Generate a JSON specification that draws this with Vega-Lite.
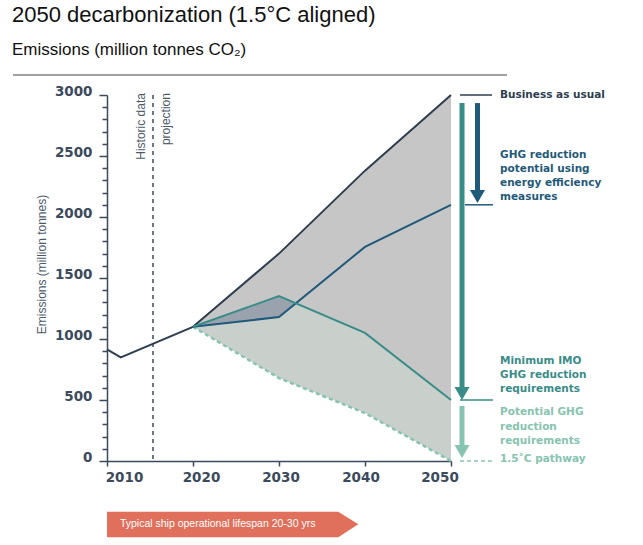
{
  "$schema": "https://vega.github.io/schema/vega-lite/v6.json",
  "autosize": "none",
  "width": 344,
  "height": 366,
  "padding": {"left": 107, "top": 95, "right": 192, "bottom": 84},
  "background": "white",
  "title": {
    "text": "2050 decarbonization (1.5°C aligned)",
    "subtitle": "Emissions (million tonnes CO₂)",
    "anchor": "start",
    "frame": "bounds",
    "font": "Liberation Sans",
    "fontSize": 22,
    "fontWeight": "normal",
    "color": "#111111",
    "subtitleFont": "Liberation Sans",
    "subtitleFontSize": 17,
    "subtitleColor": "#111111",
    "subtitlePadding": 15,
    "offset": 15
  },
  "config": {"view": {"stroke": null}},
  "datasets": {
    "lines": [
      {"series": "historic", "year": 2010, "value": 915},
      {"series": "historic", "year": 2011.6, "value": 850},
      {"series": "historic", "year": 2020, "value": 1100},
      {"series": "bau", "year": 2020, "value": 1100},
      {"series": "bau", "year": 2030, "value": 1700},
      {"series": "bau", "year": 2040, "value": 2380},
      {"series": "bau", "year": 2050, "value": 3000},
      {"series": "ee", "year": 2020, "value": 1100},
      {"series": "ee", "year": 2030, "value": 1180},
      {"series": "ee", "year": 2040, "value": 1755},
      {"series": "ee", "year": 2050, "value": 2100},
      {"series": "imo", "year": 2020, "value": 1100},
      {"series": "imo", "year": 2030, "value": 1352},
      {"series": "imo", "year": 2040, "value": 1050},
      {"series": "imo", "year": 2050, "value": 500},
      {"series": "path", "year": 2020, "value": 1100},
      {"series": "path", "year": 2030, "value": 680},
      {"series": "path", "year": 2040, "value": 393},
      {"series": "path", "year": 2050, "value": 0}
    ],
    "upper": [
      {"year": 2020, "value": 1100, "value2": 1100},
      {"year": 2030, "value": 1700, "value2": 1352},
      {"year": 2040, "value": 2380, "value2": 1050},
      {"year": 2050, "value": 3000, "value2": 500}
    ],
    "lower": [
      {"year": 2020, "value": 1100, "value2": 1100},
      {"year": 2030, "value": 1352, "value2": 680},
      {"year": 2040, "value": 1050, "value2": 393},
      {"year": 2050, "value": 500, "value2": 0}
    ],
    "overlap": [
      {"year": 2020, "value": 1100, "value2": 1100},
      {"year": 2030, "value": 1352, "value2": 1180},
      {"year": 2032.02, "value": 1291, "value2": 1291}
    ],
    "divider": [{"year": 2015.35, "value": 3000, "value2": 0}],
    "divlabels": [
      {"label": "Historic data", "year": 2014.42, "value": 3016},
      {"label": "projection", "year": 2017.27, "value": 3016}
    ],
    "levels": [
      {"series": "bau", "year": 2051.05, "year2": 2054.77, "value": 3000},
      {"series": "ee", "year": 2051.63, "year2": 2054.88, "value": 2100},
      {"series": "imo", "year": 2051.05, "year2": 2054.88, "value": 500},
      {"series": "path", "year": 2051.05, "year2": 2054.88, "value": 0}
    ],
    "shafts": [
      {"series": "imo", "year": 2051.28, "value": 2934, "value2": 600},
      {"series": "ee", "year": 2053.08, "value": 2934, "value2": 2205},
      {"series": "path", "year": 2051.28, "value": 451, "value2": 115}
    ],
    "heads": [
      {"series": "imo", "year": 2051.28, "value": 553},
      {"series": "ee", "year": 2053.08, "value": 2168},
      {"series": "path", "year": 2051.28, "value": 78}
    ],
    "notes": [
      {"label": "Business as usual", "year": 2055.7, "value": 3000, "series": "bau"},
      {"label": "GHG reduction", "year": 2055.7, "value": 2508, "series": "ee"},
      {"label": "potential using", "year": 2055.7, "value": 2393, "series": "ee"},
      {"label": "energy efficiency", "year": 2055.7, "value": 2279, "series": "ee"},
      {"label": "measures", "year": 2055.7, "value": 2164, "series": "ee"},
      {"label": "Minimum IMO", "year": 2055.7, "value": 820, "series": "imo"},
      {"label": "GHG reduction", "year": 2055.7, "value": 705, "series": "imo"},
      {"label": "requirements", "year": 2055.7, "value": 590, "series": "imo"},
      {"label": "Potential GHG", "year": 2055.7, "value": 402, "series": "path"},
      {"label": "reduction", "year": 2055.7, "value": 279, "series": "path"},
      {"label": "requirements", "year": 2055.7, "value": 164, "series": "path"},
      {"label": "1.5˚C pathway", "year": 2055.7, "value": 20, "series": "path"}
    ],
    "banner": [
      {"year": 2010, "value": -415.6, "value2": -625.4},
      {"year": 2036.89, "value": -415.6, "value2": -625.4},
      {"year": 2039.22, "value": -518.9, "value2": -518.9}
    ],
    "bannerText": [
      {"label": "Typical ship operational lifespan 20-30 yrs", "year": 2011.5, "value": -520}
    ],
    "headerRule": [{"year": 1999.07, "year2": 2056.51, "value": 3164}]
  },
  "encoding": {
    "x": {
      "field": "year", "type": "quantitative",
      "scale": {"domain": [2010, 2050], "nice": false, "zero": false},
      "axis": {
        "title": null,
        "values": [2010, 2020, 2030, 2040, 2050],
        "format": "d",
        "labelFlush": false,
        "labelFont": "DejaVu Sans",
        "labelFontWeight": "bold",
        "labelFontSize": 13.5,
        "labelColor": "#3b4a5c",
        "labelPadding": 4,
        "labelAlign": "center",
        "labelOffset": {
          "condition": [
            {"test": "datum.value === 2010", "value": 17},
            {"test": "datum.value === 2020", "value": 8},
            {"test": "datum.value === 2030", "value": 1.5},
            {"test": "datum.value === 2040", "value": -4.5}
          ],
          "value": -11.5
        },
        "tickColor": "#3b4a5c",
        "tickWidth": 1.5,
        "tickSize": 5,
        "domainColor": "#3b4a5c",
        "domainWidth": 1.5,
        "grid": false
      }
    },
    "y": {
      "field": "value", "type": "quantitative",
      "scale": {"domain": [0, 3000], "nice": false, "zero": false},
      "axis": {
        "title": "Emissions (million tonnes)",
        "values": [0, 100, 200, 300, 400, 500, 600, 700, 800, 900, 1000, 1100, 1200, 1300, 1400, 1500, 1600, 1700, 1800, 1900, 2000, 2100, 2200, 2300, 2400, 2500, 2600, 2700, 2800, 2900, 3000],
        "format": "d",
        "labelExpr": "datum.value % 500 === 0 ? datum.label : ''",
        "labelOverlap": false,
        "labelFont": "DejaVu Sans",
        "labelFontWeight": "bold",
        "labelFontSize": 13.5,
        "labelColor": "#3b4a5c",
        "labelPadding": 7,
        "labelOffset": -4,
        "tickColor": "#3b4a5c",
        "tickWidth": 1.5,
        "tickSize": {"condition": {"test": "datum.value % 500 === 0", "value": 8}, "value": 5},
        "domainColor": "#3b4a5c",
        "domainWidth": 1.5,
        "grid": false,
        "titleFont": "Liberation Sans",
        "titleFontSize": 12,
        "titleFontWeight": "normal",
        "titleColor": "#4c5a6a",
        "titleAngle": 270,
        "titleX": -59,
        "titleY": 169,
        "titleAlign": "center",
        "titleBaseline": "bottom"
      }
    }
  },
  "layer": [
    {
      "data": {"name": "upper"},
      "mark": {"type": "area", "color": "#c6c6c6", "opacity": 1},
      "encoding": {"y2": {"field": "value2"}}
    },
    {
      "data": {"name": "lower"},
      "mark": {"type": "area", "color": "#c9d0cc", "opacity": 1},
      "encoding": {"y2": {"field": "value2"}}
    },
    {
      "data": {"name": "overlap"},
      "mark": {"type": "area", "color": "#9aa3ad", "opacity": 1},
      "encoding": {"y2": {"field": "value2"}}
    },
    {
      "data": {"name": "divider"},
      "mark": {"type": "rule", "color": "#3b4a5c", "strokeWidth": 1.5, "strokeDash": [4, 4]},
      "encoding": {"y2": {"field": "value2"}}
    },
    {
      "data": {"name": "divlabels"},
      "mark": {"type": "text", "angle": 270, "align": "right", "baseline": "alphabetic", "font": "Liberation Sans", "fontSize": 12, "color": "#4c5a6a"},
      "encoding": {"text": {"field": "label"}}
    },
    {
      "data": {"name": "lines"},
      "transform": [{"filter": "datum.series === 'path'"}],
      "mark": {"type": "line", "strokeWidth": 2.5, "strokeDash": [4, 3], "color": "#86c3b0"},
      "encoding": {}
    },
    {
      "data": {"name": "lines"},
      "transform": [{"filter": "datum.series !== 'path'"}],
      "mark": {"type": "line", "strokeWidth": 2},
      "encoding": {
        "color": {
          "field": "series", "type": "nominal", "legend": null,
          "scale": {"domain": ["historic", "bau", "ee", "imo", "path"], "range": ["#2c3e50", "#2c3e50", "#1f5a7a", "#3a8c89", "#86c3b0"]}
        }
      }
    },
    {
      "data": {"name": "levels"},
      "transform": [{"filter": "datum.series !== 'path'"}],
      "mark": {"type": "rule", "strokeWidth": 1.5},
      "encoding": {
        "x2": {"field": "year2"},
        "color": {"field": "series", "type": "nominal", "legend": null}
      }
    },
    {
      "data": {"name": "levels"},
      "transform": [{"filter": "datum.series === 'path'"}],
      "mark": {"type": "rule", "strokeWidth": 1.5, "strokeDash": [4, 3]},
      "encoding": {
        "x2": {"field": "year2"},
        "color": {"field": "series", "type": "nominal", "legend": null}
      }
    },
    {
      "data": {"name": "shafts"},
      "mark": {"type": "rule", "strokeWidth": 5, "strokeCap": "butt"},
      "encoding": {
        "y2": {"field": "value2"},
        "color": {"field": "series", "type": "nominal", "legend": null}
      }
    },
    {
      "data": {"name": "heads"},
      "mark": {"type": "point", "shape": "triangle-down", "filled": true, "size": 225, "opacity": 1},
      "encoding": {
        "color": {"field": "series", "type": "nominal", "legend": null}
      }
    },
    {
      "data": {"name": "notes"},
      "mark": {"type": "text", "align": "left", "baseline": "middle", "font": "DejaVu Sans", "fontWeight": "bold", "fontSize": 10.5},
      "encoding": {
        "text": {"field": "label"},
        "color": {"field": "series", "type": "nominal", "legend": null}
      }
    },
    {
      "data": {"name": "banner"},
      "mark": {"type": "area", "color": "#e0705c", "opacity": 1},
      "encoding": {"y2": {"field": "value2"}}
    },
    {
      "data": {"name": "bannerText"},
      "mark": {"type": "text", "align": "left", "baseline": "middle", "font": "Liberation Sans", "fontSize": 10.5, "color": "white"},
      "encoding": {"text": {"field": "label"}}
    },
    {
      "data": {"name": "headerRule"},
      "mark": {"type": "rule", "color": "#a0a0a0", "strokeWidth": 2},
      "encoding": {"x2": {"field": "year2"}}
    }
  ]
}
